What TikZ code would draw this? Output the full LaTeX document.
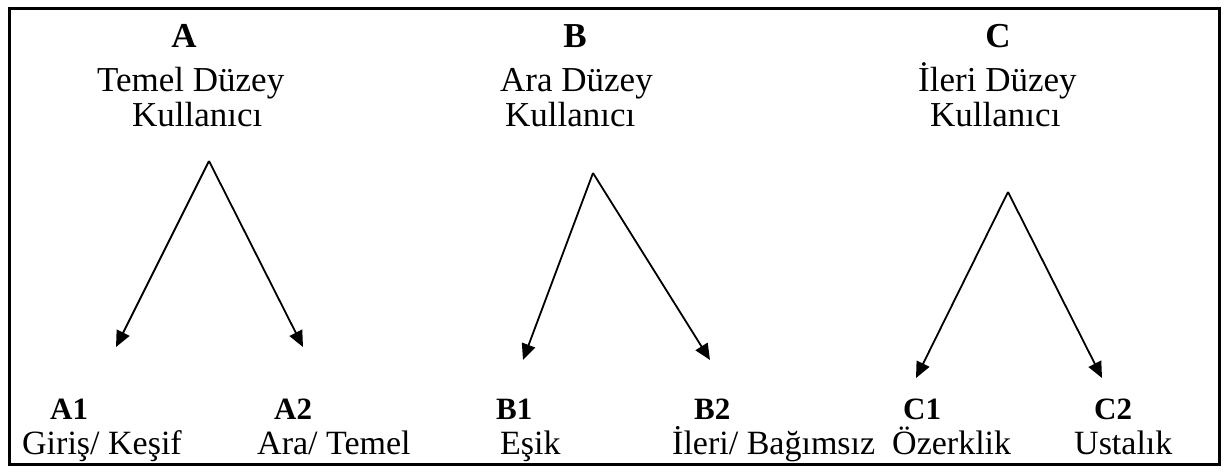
\documentclass[tikz,border=0pt]{standalone}
\usepackage{fontspec}
\setmainfont{Liberation Serif}
\usetikzlibrary{arrows.meta}
\begin{document}
\begin{tikzpicture}[x=1pt,y=-1pt,
    lvlletter/.style={anchor=base,inner sep=0pt,font=\fontsize{35}{40}\selectfont\bfseries},
    lvlname/.style={anchor=base west,inner sep=0pt,font=\fontsize{35}{40}\selectfont},
    subcode/.style={anchor=base west,inner sep=0pt,font=\fontsize{31}{36}\selectfont\bfseries},
    subdesc/.style={anchor=base west,inner sep=0pt,font=\fontsize{34}{40}\selectfont},
    splitarrow/.style={-{Triangle[length=16pt,width=14pt]},line width=1.8pt}]
    \useasboundingbox (0,0) rectangle (1225,472);
    \draw[line width=3pt] (9,8) rectangle (1219,464);

    % top levels
    \node[lvlletter] (A)  at (184,47)  {A};
    \node[lvlname]   (A1) at (97,91)   {Temel Düzey};
    \node[lvlname]   (A2) at (132,126) {Kullanıcı};
    \node[lvlletter] (B)  at (575,47)  {B};
    \node[lvlname]   (B1) at (500,91)  {Ara Düzey};
    \node[lvlname]   (B2) at (505,126) {Kullanıcı};
    \node[lvlletter] (C)  at (998,47)  {C};
    \node[lvlname]   (C1) at (918,91)  {İleri Düzey};
    \node[lvlname]   (C2) at (930,126) {Kullanıcı};

    % sub levels
    \node[subcode] (a1)  at (50,419)   {A1};
    \node[subdesc] (a1t) at (22,454)   {Giriş/ Keşif};
    \node[subcode] (a2)  at (274,419)  {A2};
    \node[subdesc] (a2t) at (257,454)  {Ara/ Temel};
    \node[subcode] (b1)  at (496,419)  {B1};
    \node[subdesc] (b1t) at (500,454)  {Eşik};
    \node[subcode] (b2)  at (694,419)  {B2};
    \node[subdesc] (b2t) at (672,454)  {İleri/ Bağımsız};
    \node[subcode] (c1)  at (903,419)  {C1};
    \node[subdesc] (c1t) at (892,454)  {Özerklik};
    \node[subcode] (c2)  at (1094,419) {C2};
    \node[subdesc] (c2t) at (1074,454) {Ustalık};

    % splits
    \coordinate (Atop) at (209,161);
    \coordinate (Al)   at (116,347);
    \coordinate (Ar)   at (303,347);
    \coordinate (Btop) at (593,173);
    \coordinate (Bl)   at (523,360);
    \coordinate (Br)   at (710,360);
    \coordinate (Ctop) at (1008,192);
    \coordinate (Cl)   at (916,378);
    \coordinate (Cr)   at (1102,378);

    \draw[splitarrow] (Atop) -- (Al);
    \draw[splitarrow] (Atop) -- (Ar);
    \draw[splitarrow] (Btop) -- (Bl);
    \draw[splitarrow] (Btop) -- (Br);
    \draw[splitarrow] (Ctop) -- (Cl);
    \draw[splitarrow] (Ctop) -- (Cr);
\end{tikzpicture}
\end{document}
